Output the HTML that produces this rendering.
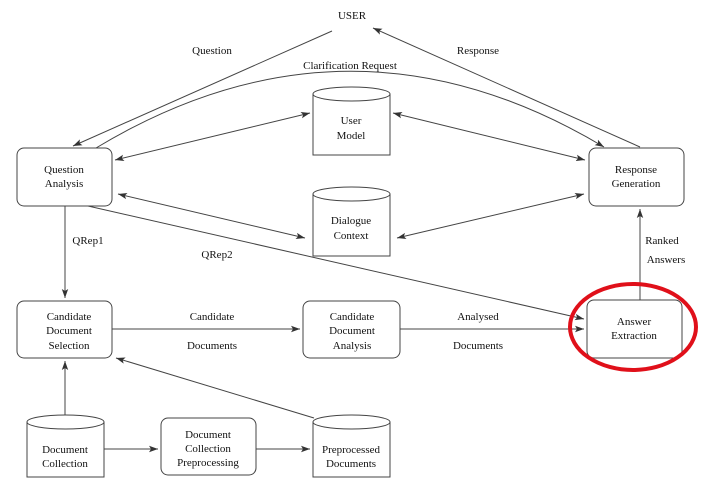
<!DOCTYPE html>
<html><head><meta charset="utf-8"><style>
html,body{margin:0;padding:0;background:#fff;}
svg{display:block;}
text{font-family:"Liberation Serif",serif;font-size:11px;fill:#111;text-anchor:middle;}
</style></head><body>
<svg width="706" height="491" viewBox="0 0 706 491" xmlns="http://www.w3.org/2000/svg">
<defs>
<marker id="a" markerWidth="10" markerHeight="8" refX="9" refY="4" orient="auto" markerUnits="userSpaceOnUse">
<path d="M0,0.8 L9,4 L0,7.2 L2,4 Z" fill="#333"/></marker>
<marker id="s" markerWidth="10" markerHeight="8" refX="1" refY="4" orient="auto" markerUnits="userSpaceOnUse">
<path d="M10,0.8 L1,4 L10,7.2 L8,4 Z" fill="#333"/></marker>
</defs>
<g stroke="#444" stroke-width="1" fill="none">
<!-- boxes -->
<rect x="17" y="148" width="95" height="58" rx="7" fill="#fff"/>
<rect x="589" y="148" width="95" height="58" rx="7" fill="#fff"/>
<rect x="17" y="301" width="95" height="57" rx="7" fill="#fff"/>
<rect x="303" y="301" width="97" height="57" rx="7" fill="#fff"/>
<rect x="587" y="300" width="95" height="58" rx="7" fill="#fff"/>
<rect x="161" y="418" width="95" height="57" rx="7" fill="#fff"/>
<!-- cylinders -->
<path d="M313,94 V155 H390 V94" fill="#fff"/><ellipse cx="351.5" cy="94" rx="38.5" ry="7" fill="#fff"/>
<path d="M313,194 V256 H390 V194" fill="#fff"/><ellipse cx="351.5" cy="194" rx="38.5" ry="7" fill="#fff"/>
<path d="M27,422 V477 H104 V422" fill="#fff"/><ellipse cx="65.5" cy="422" rx="38.5" ry="7" fill="#fff"/>
<path d="M313,422 V477 H390 V422" fill="#fff"/><ellipse cx="351.5" cy="422" rx="38.5" ry="7" fill="#fff"/>
<!-- connectors -->
<line x1="332" y1="31" x2="73" y2="146" marker-end="url(#a)"/>
<line x1="640" y1="147" x2="373" y2="28" marker-end="url(#a)"/>
<path d="M96,148 Q350,-5 604,147" marker-end="url(#a)"/>
<line x1="115" y1="160" x2="310" y2="113" marker-start="url(#s)" marker-end="url(#a)"/>
<line x1="393" y1="113" x2="585" y2="160" marker-start="url(#s)" marker-end="url(#a)"/>
<line x1="118" y1="194" x2="305" y2="238" marker-start="url(#s)" marker-end="url(#a)"/>
<line x1="397" y1="238" x2="584" y2="194" marker-start="url(#s)" marker-end="url(#a)"/>
<line x1="88" y1="206" x2="584" y2="319" marker-end="url(#a)"/>
<line x1="65" y1="206" x2="65" y2="298" marker-end="url(#a)"/>
<line x1="640" y1="300" x2="640" y2="209" marker-end="url(#a)"/>
<line x1="112" y1="329" x2="300" y2="329" marker-end="url(#a)"/>
<line x1="400" y1="329" x2="584" y2="329" marker-end="url(#a)"/>
<line x1="65" y1="415" x2="65" y2="361" marker-end="url(#a)"/>
<line x1="104" y1="449" x2="158" y2="449" marker-end="url(#a)"/>
<line x1="256" y1="449" x2="310" y2="449" marker-end="url(#a)"/>
<line x1="314" y1="418" x2="116" y2="358" marker-end="url(#a)"/>
</g>
<ellipse cx="633" cy="327" rx="63" ry="43" fill="none" stroke="#e0101a" stroke-width="4"/>
<text x="352" y="19">USER</text>
<text x="212" y="54">Question</text>
<text x="478" y="54">Response</text>
<text x="350" y="69">Clarification Request</text>
<text x="351" y="124">User</text><text x="351" y="139">Model</text>
<text x="351" y="224">Dialogue</text><text x="351" y="239">Context</text>
<text x="64" y="173">Question</text><text x="64" y="187">Analysis</text>
<text x="636" y="173">Response</text><text x="636" y="187">Generation</text>
<text x="88" y="244">QRep1</text>
<text x="217" y="258">QRep2</text>
<text x="662" y="244">Ranked</text>
<text x="666" y="263">Answers</text>
<text x="69" y="320">Candidate</text><text x="69" y="334">Document</text><text x="69" y="349">Selection</text>
<text x="352" y="320">Candidate</text><text x="352" y="334">Document</text><text x="352" y="349">Analysis</text>
<text x="634" y="325">Answer</text><text x="634" y="339">Extraction</text>
<text x="212" y="320">Candidate</text><text x="212" y="349">Documents</text>
<text x="478" y="320">Analysed</text><text x="478" y="349">Documents</text>
<text x="65" y="453">Document</text><text x="65" y="467">Collection</text>
<text x="208" y="438">Document</text><text x="208" y="452">Collection</text><text x="208" y="466">Preprocessing</text>
<text x="351" y="453">Preprocessed</text><text x="351" y="467">Documents</text>
</svg>
</body></html>
